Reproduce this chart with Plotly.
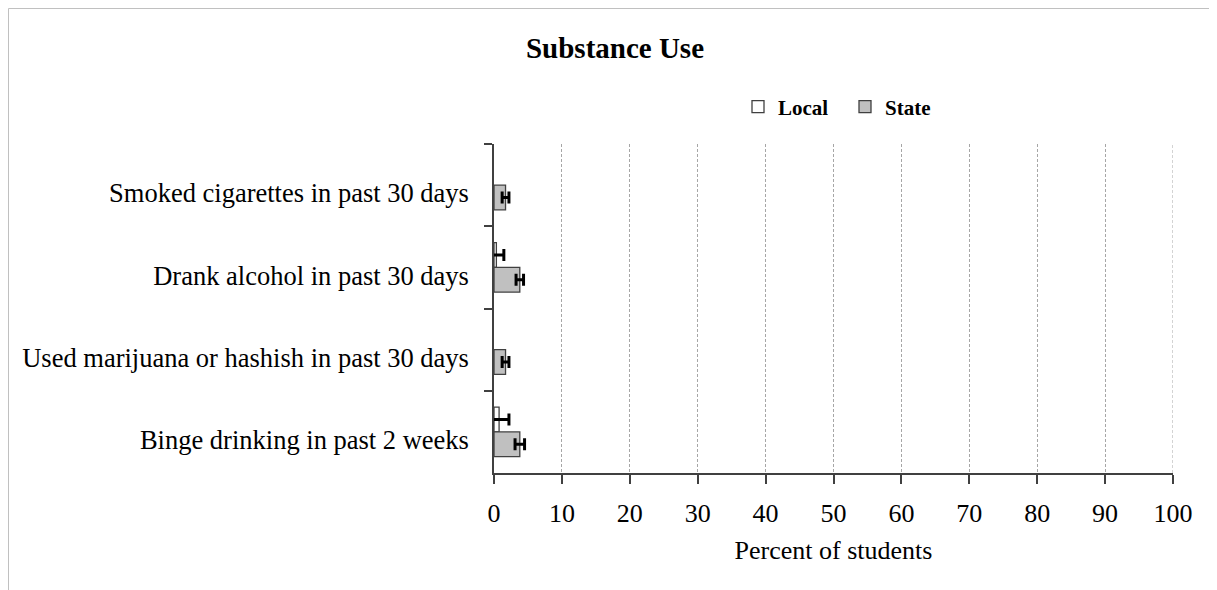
import plotly.graph_objects as go

categories = [
    "Smoked cigarettes in past 30 days",
    "Drank alcohol in past 30 days",
    "Used marijuana or hashish in past 30 days",
    "Binge drinking in past 2 weeks",
]
# None = no bar drawn (zero / not shown in the original)
local_vals = [None, 0.35, None, 0.75]
local_err = [None, 1.1, None, 1.45]
state_vals = [1.7, 3.8, 1.7, 3.8]
state_err = [0.5, 0.55, 0.5, 0.7]
x_ticks = [0, 10, 20, 30, 40, 50, 60, 70, 80, 90, 100]

W, H = 1217, 590
L, R, T, B = 486, 52, 136, 125
pw, ph = W - L - R, H - T - B

def px_x(p):
    return (p - L) / pw

def px_y(p):
    return (H - B - p) / ph

FONT = "Liberation Serif, Times New Roman, serif"
AX = "#404040"

fig = go.Figure()
fig.add_trace(go.Bar(
    name="Local", y=categories, x=local_vals, orientation="h",
    marker=dict(color="white", line=dict(color=AX, width=1.3)),
    error_x=dict(type="data", array=local_err, visible=True,
                 color="black", thickness=3, width=6),
))
fig.add_trace(go.Bar(
    name="State", y=categories, x=state_vals, orientation="h",
    marker=dict(color="#c0c0c0", line=dict(color=AX, width=1.3)),
    error_x=dict(type="data", array=state_err, visible=True,
                 color="black", thickness=3, width=6),
))

fig.update_layout(
    width=W, height=H,
    margin=dict(l=L, r=R, t=T, b=B, autoexpand=False),
    paper_bgcolor="white", plot_bgcolor="white",
    barmode="group", bargap=0.4, bargroupgap=0,
    font=dict(family=FONT, size=26, color="black"),
    title=dict(text="<b>Substance Use</b>", x=607 / W, xanchor="center",
               y=1 - 40 / H, yanchor="middle", yref="container",
               font=dict(family=FONT, size=29, color="black")),
    legend=dict(orientation="h", x=px_x(730), xanchor="left",
                y=px_y(99), yanchor="middle",
                font=dict(family=FONT, size=21, color="black", weight="bold"),
                itemwidth=30, entrywidth=62, bgcolor="rgba(0,0,0,0)"),
    xaxis=dict(range=[0, 100], tickvals=x_ticks, showgrid=True,
               gridcolor="#a6a6a6", griddash="3px,2px", gridwidth=1,
               showline=True, linecolor=AX, linewidth=1.5,
               ticks="outside", ticklen=9, tickcolor=AX, tickwidth=1.5,
               zeroline=False, tickfont=dict(size=26), ticklabelstandoff=7,
               title=dict(text="Percent of students", standoff=14,
                          font=dict(size=26))),
    yaxis=dict(autorange="reversed", type="category", showgrid=False,
               showline=True, linecolor=AX, linewidth=1.5,
               ticks="outside", ticklen=8, tickcolor=AX, tickwidth=1.5,
               tickson="boundaries", zeroline=False,
               ticklabelstandoff=18, ticklabelshift=-8,
               tickfont=dict(size=26.5)),
    shapes=[
        dict(type="rect", xref="paper", yref="paper",
             x0=px_x(0.5), x1=px_x(W + 5), y0=px_y(H + 5), y1=px_y(0.5),
             line=dict(color="#c0c0c0", width=1), layer="below"),
        dict(type="line", xref="x", yref="paper", x0=100, x1=100, y0=0, y1=1,
             line=dict(color="#a6a6a6", width=1, dash="3px,2px"), layer="below"),
    ],
)

fig.write_html("out.html")
